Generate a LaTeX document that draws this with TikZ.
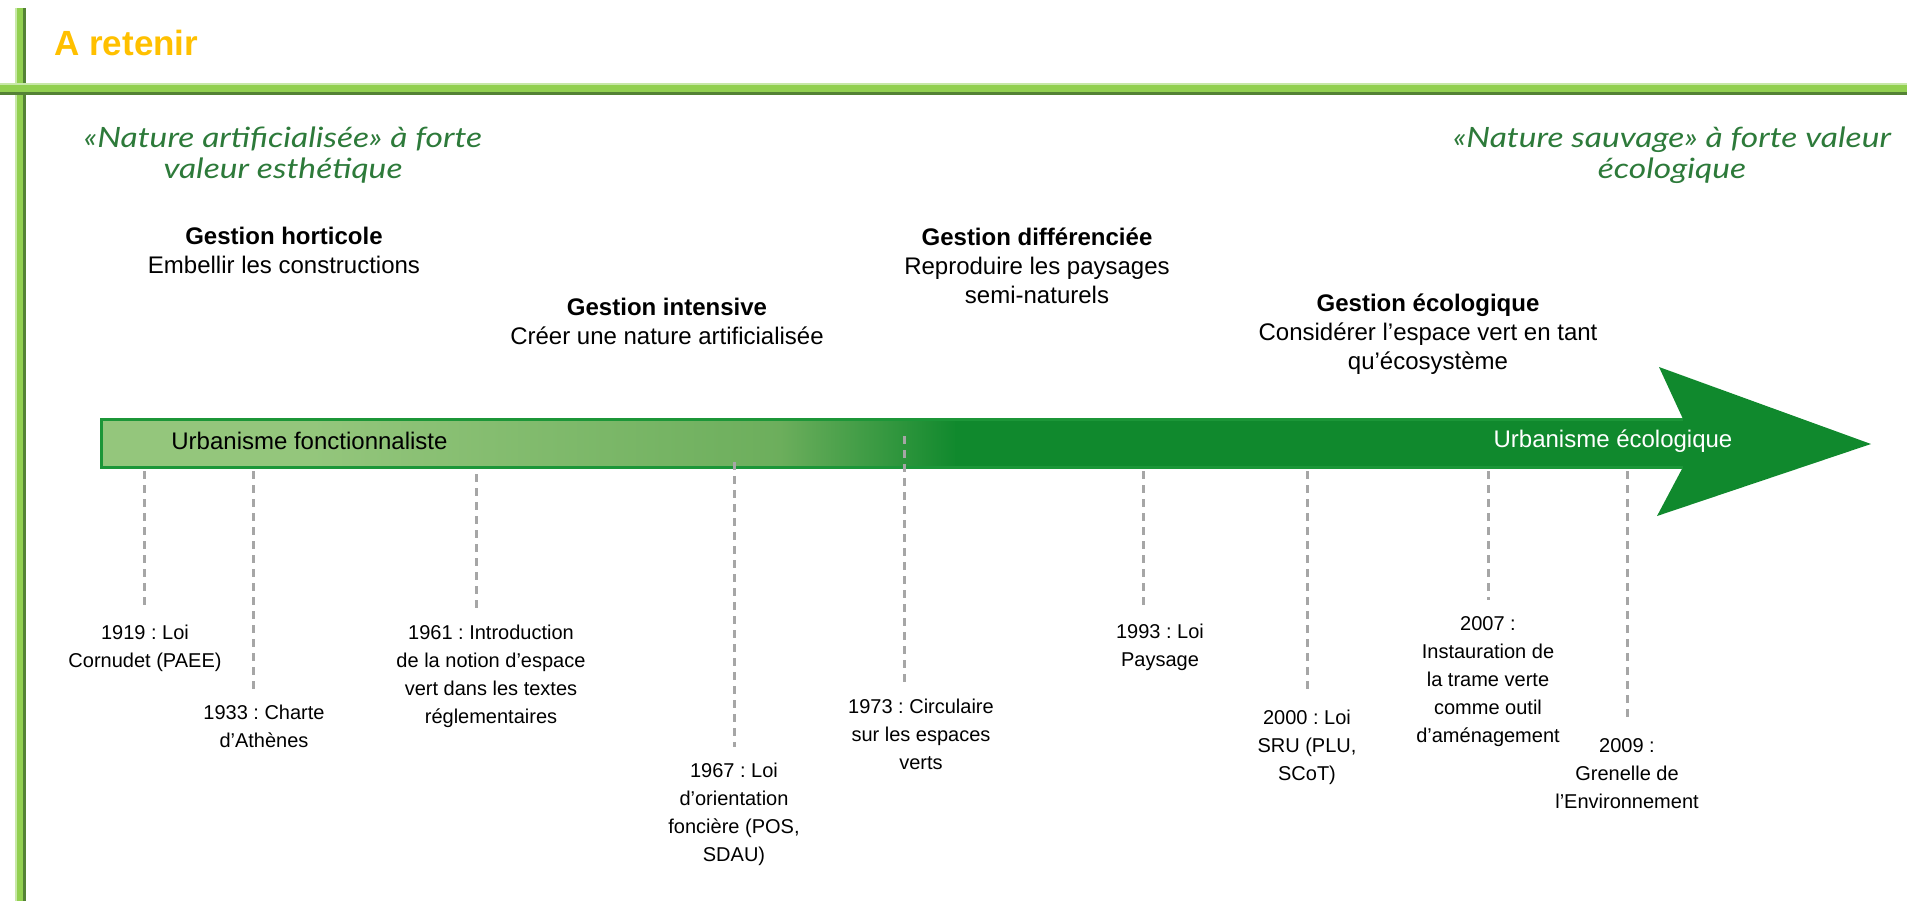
\documentclass[tikz,border=0pt]{standalone}
\usepackage{fontspec}
\setmainfont{Liberation Sans}
\newfontfamily\handfont{Lato}[FakeStretch=1.2]
\usetikzlibrary{positioning}

\definecolor{barlight}{RGB}{146,208,80}
\definecolor{bardark}{RGB}{84,130,53}
\definecolor{barpale}{RGB}{200,232,168}
\definecolor{titleorange}{RGB}{255,192,0}
\definecolor{handgreen}{RGB}{45,122,58}
\definecolor{arrowlight}{RGB}{148,198,124}
\definecolor{arrowmid}{RGB}{108,174,92}
\definecolor{arrowdark}{RGB}{16,137,45}
\definecolor{arrowedge}{RGB}{28,150,56}
\definecolor{guidegray}{RGB}{166,166,166}

\tikzset{
  heading/.style={align=center, anchor=north, inner sep=0pt,
    font=\fontsize{12}{14.5}\selectfont},
  datelabel/.style={align=center, anchor=north, inner sep=0pt,
    font=\fontsize{10}{14}\selectfont},
  handtext/.style={align=center, anchor=north, inner sep=0pt, text=handgreen,
    font=\handfont\itshape\fontsize{14}{15.5}\selectfont},
  guide/.style={draw=guidegray, line width=1.5pt, dash pattern=on 4pt off 3pt,
    shorten >=8pt},
}

\begin{document}
\frenchspacing
\begin{tikzpicture}[x=0.5pt,y=-0.5pt]

  \useasboundingbox (0,0) rectangle (1917,901);

  % frame
  \fill[barlight] (15,8) rectangle (25,901);
  \fill[barpale] (15,8) rectangle (17,901);
  \fill[bardark] (23,8) rectangle (26,901);
  \fill[barlight] (0,83) rectangle (1907,93);
  \fill[barpale] (0,83) rectangle (1907,85);
  \fill[bardark] (0,92) rectangle (1907,95);

  \node[anchor=west, inner sep=0pt, text=titleorange,
    font=\bfseries\fontsize{17.5}{20}\selectfont] (retenir) at (54,43) {A retenir};

  % the two ends of the scale
  \node[handtext] (artificielle) at (283,126)
    {«Nature artificialisée» à forte\\valeur esthétique};
  \node[handtext] (sauvage) at (1672,126)
    {«Nature sauvage» à forte valeur\\écologique};

  % kinds of management
  \node[heading] (horticole) at (284,227)
    {\textbf{Gestion horticole}\\Embellir les constructions};
  \node[heading] (intensive) at (667,298)
    {\textbf{Gestion intensive}\\Créer une nature artificialisée};
  \node[heading] (differenciee) at (1037,227)
    {\textbf{Gestion différenciée}\\Reproduire les paysages\\semi-naturels};
  \node[heading] (ecologique) at (1428,293)
    {\textbf{Gestion écologique}\\Considérer l'espace vert en tant\\qu'écosystème};

  % arrow
  \fill[arrowlight] (101,419) rectangle (314,467);
  \shade[left color=arrowlight, right color=arrowmid] (312,419) rectangle (782,467);
  \shade[left color=arrowmid, right color=arrowdark] (780,419) rectangle (957,467);
  \fill[arrowdark] (955,419) -- (1683,419) -- (1659,367) -- (1871,444)
    -- (1657,516) -- (1683,467) -- (955,467) -- cycle;
  \draw[arrowedge, line width=1.5pt] (1683,419) -- (101,419) -- (101,467) -- (1683,467);

  \node[anchor=west, inner sep=0pt, font=\fontsize{12}{14}\selectfont]
    (fonctionnaliste) at (171,441) {Urbanisme fonctionnaliste};
  \node[inner sep=0pt, text=white, font=\fontsize{12}{14}\selectfont]
    (urbeco) at (1613,441) {Urbanisme écologique};

  % dates
  \foreach \n/\x/\ytop/\lx/\ly/\txt in {
      1/144/471/145/625/{1919 : Loi\\Cornudet (PAEE)},
      2/253/471/264/705/{1933 : Charte\\d'Athènes},
      3/476/474/491/625/{1961 : Introduction\\de la notion d'espace\\vert dans les textes\\réglementaires},
      4/734/462/734/763/{1967 : Loi\\d'orientation\\foncière (POS,\\SDAU)},
      5/904/436/921/699/{1973 : Circulaire\\sur les espaces\\verts},
      6/1143/471/1160/624/{1993 : Loi\\Paysage},
      7/1307/471/1307/710/{2000 : Loi\\SRU (PLU,\\SCoT)},
      8/1488/471/1488/616/{2007 :\\Instauration de\\la trame verte\\comme outil\\d'aménagement},
      9/1627/471/1627/738/{2009 :\\Grenelle de\\l'Environnement}} {
    \coordinate (t\n) at (\x,\ytop);
    \node[datelabel] (d\n) at (\lx,\ly) {\txt};
    \draw[guide] (t\n) -- (t\n |- d\n.north);
  }

\end{tikzpicture}
\end{document}
